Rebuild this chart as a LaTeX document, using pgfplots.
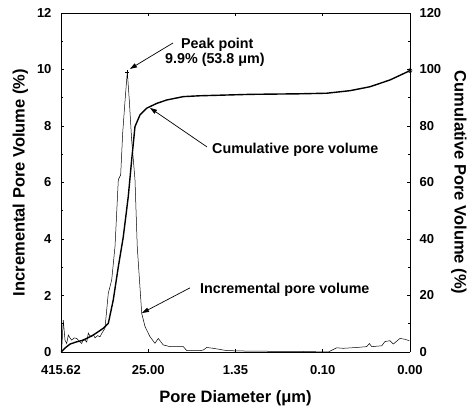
\documentclass[border=0pt]{standalone}
\usepackage{fontspec}
\setmainfont{Liberation Sans}
\usepackage{pgfplots}
\pgfplotsset{compat=1.18}
\usetikzlibrary{arrows.meta}
\begin{document}
\begin{tikzpicture}[x=1pt,y=1pt]
\pgfplotsset{
  common/.style={
    scale only axis, width=349pt, height=339pt,
    xmin=0, xmax=4,
    /pgf/number format/assume math mode=true,
    tick style={black, line width=0.5pt},
    major tick length=3pt, minor tick length=2pt,
    axis line style={line width=0.6pt},
    tick label style={font=\fontsize{13}{14}\selectfont\bfseries},
    label style={font=\fontsize{16.5}{18}\selectfont\bfseries},
  }
}
\def\annfont{\fontsize{14.3}{15}\selectfont\bfseries}
\begin{axis}[common,
  axis y line*=left, axis x line*=box,
  ymin=0, ymax=12, ytick={0,2,...,12}, minor y tick num=1,
  xtick={0,1,2,3,4}, xticklabels={415.62,25.00,1.35,0.10,0.00},
  xticklabel style={yshift=-10pt},
  yticklabel style={xshift=-6pt},
  xlabel={Pore Diameter (μm)}, ylabel={Incremental Pore Volume (\%)},
  xlabel style={yshift=-9pt}, ylabel style={yshift=2pt},
  clip=false]
\addplot[black, line width=0.5pt] coordinates {
(0.000,0.05) (0.008,0.07) (0.026,1.13) (0.046,0.42) (0.065,0.30) (0.084,0.60) (0.103,0.50)
(0.123,0.42) (0.150,0.50) (0.180,0.48) (0.210,0.38) (0.237,0.30) (0.255,0.45) (0.275,0.42)
(0.295,0.35) (0.313,0.67) (0.330,0.58) (0.352,0.54) (0.370,0.62) (0.390,0.50) (0.420,0.58)
(0.447,0.54) (0.475,0.70) (0.504,0.84) (0.542,2.08) (0.581,2.55) (0.619,3.73) (0.657,6.10)
(0.684,6.27) (0.707,7.75) (0.734,8.90) (0.760,9.92) (0.783,8.90) (0.810,7.50) (0.829,6.80)
(0.848,6.10) (0.874,3.73) (0.925,1.37) (0.963,0.90) (1.020,0.54) (1.077,0.31) (1.115,0.48)
(1.172,0.25) (1.249,0.19) (1.402,0.19) (1.441,0.05) (1.600,0.05) (1.631,0.07) (1.670,0.16)
(1.746,0.13) (1.899,0.05) (2.166,0.03) (2.739,0.02) (3.064,0.00) (3.160,0.15) (3.235,0.13)
(3.389,0.16) (3.504,0.19) (3.534,0.30) (3.561,0.19) (3.676,0.22) (3.713,0.37) (3.771,0.40)
(3.808,0.28) (3.885,0.48) (3.943,0.45) (3.992,0.40)
};
\addplot[black, only marks, mark=+, mark size=2pt] coordinates {(0.760,9.92)};
\draw[-{Triangle[length=7pt,width=4.5pt]}, line width=0.7pt] (axis cs:1.284,10.94) -- (axis cs:0.79,10.02);
\node[anchor=west, font=\annfont, inner sep=0pt] at (axis cs:1.375,10.87) {Peak point};
\node[anchor=west, font=\annfont, inner sep=0pt] at (axis cs:1.192,10.34) {9.9\% (53.8 μm)};
\draw[-{Triangle[length=7pt,width=4.5pt]}, line width=0.7pt] (axis cs:1.673,7.26) -- (axis cs:1.02,8.64);
\node[anchor=west, font=\annfont, inner sep=0pt] at (axis cs:1.731,7.15) {Cumulative pore volume};
\draw[-{Triangle[length=7pt,width=4.5pt]}, line width=0.7pt] (axis cs:1.478,2.27) -- (axis cs:0.928,1.38);
\node[anchor=west, font=\annfont, inner sep=0pt] at (axis cs:1.593,2.19) {Incremental pore volume};
\end{axis}
\begin{axis}[common,
  axis y line*=right, axis x line=none,
  ymin=0, ymax=120, ytick={0,20,...,120}, minor y tick num=1,
  yticklabel style={xshift=6pt},
  ylabel={Cumulative Pore Volume (\%)},
  ylabel style={rotate=180, yshift=3pt}]
\addplot[black, line width=1.4pt] coordinates {
(0.000,0.0) (0.011,0.3) (0.050,1.5) (0.103,2.8) (0.180,3.6) (0.256,4.2) (0.370,6.0) (0.485,8.4)
(0.542,10.1) (0.599,18.4) (0.657,30.2) (0.714,40.8) (0.771,55.0) (0.810,68.0) (0.848,79.8)
(0.905,83.9) (0.982,86.3) (1.097,88.0) (1.211,89.2) (1.402,90.4) (1.593,90.7) (2.166,91.2)
(2.739,91.4) (3.045,91.6) (3.312,92.5) (3.542,93.9) (3.771,96.3) (4.000,99.6)
};
\addplot[black, only marks, mark=o, mark size=2pt, line width=0.5pt] coordinates {(4.000,99.6)};
\end{axis}
\pgfresetboundingbox
\path ([shift={(-61pt,-60pt)}]current axis.south west) rectangle ([shift={(62pt,13pt)}]current axis.north east);
\end{tikzpicture}
\end{document}
